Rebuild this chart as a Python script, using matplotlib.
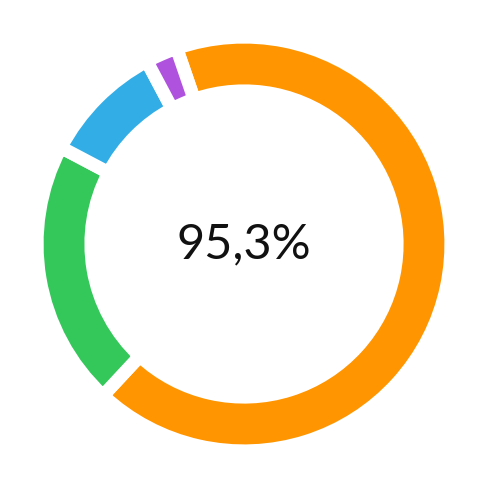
import matplotlib
matplotlib.use("Agg")
from matplotlib import pyplot as plt

# segment shares (percent), drawn clockwise from the top-left gap
labels = ['Orange', 'Green', 'Blue', 'Purple']
values = [67.2, 20.8, 9.5, 2.5]
colors = ['#FF9500', '#34C759', '#32ADE6', '#AF52DE']
center_text = '95,3%'

fig = plt.figure(figsize=(4.88, 4.88), dpi=100)
ax = fig.add_axes([0, 0, 1, 1])

ax.pie(values, colors=colors, startangle=109, counterclock=False,
       radius=1.035,
       wedgeprops=dict(width=0.27, edgecolor='white', linewidth=9.5))

ax.text(0, 0, center_text, ha='center', va='center',
        fontsize=35, family=['Lato', 'DejaVu Sans'], color='#111111')

ax.set_xlim(-1.22, 1.22)
ax.set_ylim(-1.22, 1.22)
ax.set_aspect('equal')
ax.axis('off')

fig.savefig('out.png', dpi=100, facecolor='white')
